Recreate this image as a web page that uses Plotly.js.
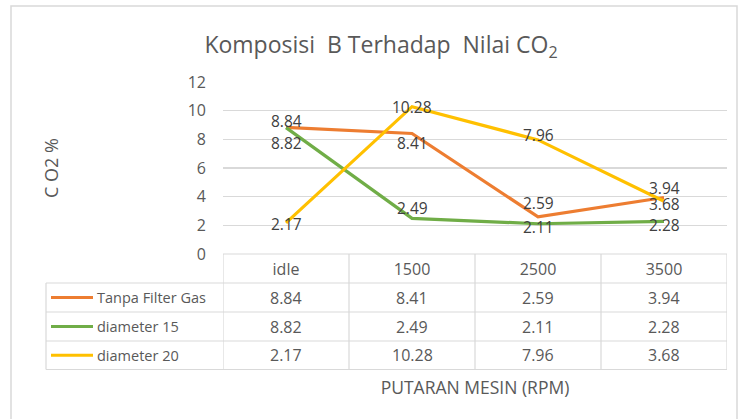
<!DOCTYPE html>
<html>
<head>
<meta charset="utf-8">
<script src="https://cdn.plot.ly/plotly-3.0.1.min.js"></script>
<style>html,body{margin:0;padding:0;background:#fff;}#chart{width:738px;height:419px;}</style>
</head>
<body>
<div id="chart"></div>
<script>
// ---- data ----
var categories = ["idle", "1500", "2500", "3500"];
var seriesNames = ["Tanpa Filter Gas", "diameter 15", "diameter 20"];
var tanpaFilter = [8.84, 8.41, 2.59, 3.94];
var diameter15 = [8.82, 2.49, 2.11, 2.28];
var diameter20 = [2.17, 10.28, 7.96, 3.68];
var chartTitle = "Komposisi  B Terhadap  Nilai CO<sub>2</sub>";
var yTitle = "C O2 %";
var xTitle = "PUTARAN MESIN (RPM)";

// ---- styling ----
var allSeries = [tanpaFilter, diameter15, diameter20];
var colors = ["#ED7D31", "#70AD47", "#FFC000"];
// per-point label offsets (px, up positive), to mimic the reference's label placement
var labelShift = [
  [6, -10, 14, 10],
  [-15, 10, -3, -4],
  [-1, 0, 5, -3]
];
var FONT = "Open Sans, sans-serif";
var TXT = "#595959";
var GRID = "#d9d9d9";

// pixel geometry of plot area
var L = 223, R = 727, T = 82, B = 254, W = 738, H = 419;
function px2x(px) { return (px - L) / (R - L); }
function py2y(py) { return (B - py) / (B - T); }

var traces = allSeries.map(function (vals, i) {
  return {
    type: "scatter", mode: "lines", x: categories, y: vals, name: seriesNames[i],
    line: { color: colors[i], width: 3.2 }, hoverinfo: "x+y+name", showlegend: false
  };
});

var annotations = [];
var shapes = [];
// data labels (x given as category index)
allSeries.forEach(function (vals, i) {
  vals.forEach(function (v, j) {
    annotations.push({
      x: j, y: v, xref: "x", yref: "y", text: v.toFixed(2), showarrow: false,
      yshift: labelShift[i][j], font: { family: FONT, size: 15.5, color: "#404040" }
    });
  });
});

// table geometry
var rowLines = [254, 283, 312, 341, 369.5];
var legendLeft = 46;
rowLines.forEach(function (py, k) {
  shapes.push({
    type: "line", xref: "paper", yref: "paper",
    x0: px2x(k === 0 ? L : legendLeft), x1: px2x(R), y0: py2y(py), y1: py2y(py),
    line: { color: GRID, width: 1.2 }, layer: "below"
  });
});
for (var c = 0; c <= categories.length; c++) {
  shapes.push({
    type: "line", xref: "x", yref: "paper", x0: c - 0.5, x1: c - 0.5,
    y0: py2y(254), y1: py2y(369.5), line: { color: GRID, width: 1.2 }, layer: "below"
  });
}
shapes.push({
  type: "line", xref: "paper", yref: "paper", x0: px2x(legendLeft), x1: px2x(legendLeft),
  y0: py2y(283), y1: py2y(369.5), line: { color: GRID, width: 1.2 }
});
seriesNames.forEach(function (name, i) {
  var cy = (rowLines[i + 1] + rowLines[i + 2]) / 2;
  shapes.push({
    type: "line", xref: "paper", yref: "paper", x0: px2x(51), x1: px2x(93),
    y0: py2y(cy), y1: py2y(cy), line: { color: colors[i], width: 3.2 }
  });
  annotations.push({
    xref: "paper", yref: "paper", x: px2x(95), y: py2y(cy), xanchor: "left", yanchor: "middle",
    text: name, showarrow: false, font: { family: FONT, size: 14.5, color: TXT }
  });
  allSeries[i].forEach(function (v, j) {
    annotations.push({
      xref: "x", yref: "paper", x: j, y: py2y(cy), yanchor: "middle",
      text: v.toFixed(2), showarrow: false, font: { family: FONT, size: 16, color: TXT }
    });
  });
});
shapes.push({
  type: "rect", xref: "paper", yref: "paper", x0: px2x(11), x1: px2x(737), y0: py2y(430), y1: py2y(6),
  line: { color: GRID, width: 1.5 }, fillcolor: "rgba(0,0,0,0)"
});

var layout = {
  width: W, height: H,
  margin: { l: L, r: W - R, t: T, b: H - B, pad: 0 },
  paper_bgcolor: "#ffffff", plot_bgcolor: "#ffffff",
  font: { family: FONT, color: TXT },
  title: {
    text: chartTitle, x: 381 / W, xref: "container", xanchor: "center",
    y: 1 - 45 / H, yref: "container", yanchor: "middle",
    font: { family: FONT, size: 23, color: TXT }
  },
  xaxis: {
    type: "category", range: [-0.5, 3.5], showgrid: false, zeroline: false,
    showline: false, ticks: "", tickfont: { family: FONT, size: 16, color: TXT },
    ticklabelstandoff: 4,
    title: { text: xTitle, standoff: 102, font: { family: FONT, size: 17.5, color: TXT } },
    fixedrange: true
  },
  yaxis: {
    range: [0, 12], dtick: 2, tick0: 0, showgrid: true, gridcolor: GRID, gridwidth: 1.2,
    zeroline: false, showline: false, ticks: "", ticklabelstandoff: 16,
    tickfont: { family: FONT, size: 16, color: TXT },
    title: { text: yTitle, standoff: 124, font: { family: FONT, size: 18, color: TXT } },
    fixedrange: true
  },
  showlegend: false,
  annotations: annotations,
  shapes: shapes
};

Plotly.newPlot("chart", traces, layout, { displayModeBar: false, staticPlot: true });
</script>
</body>
</html>
